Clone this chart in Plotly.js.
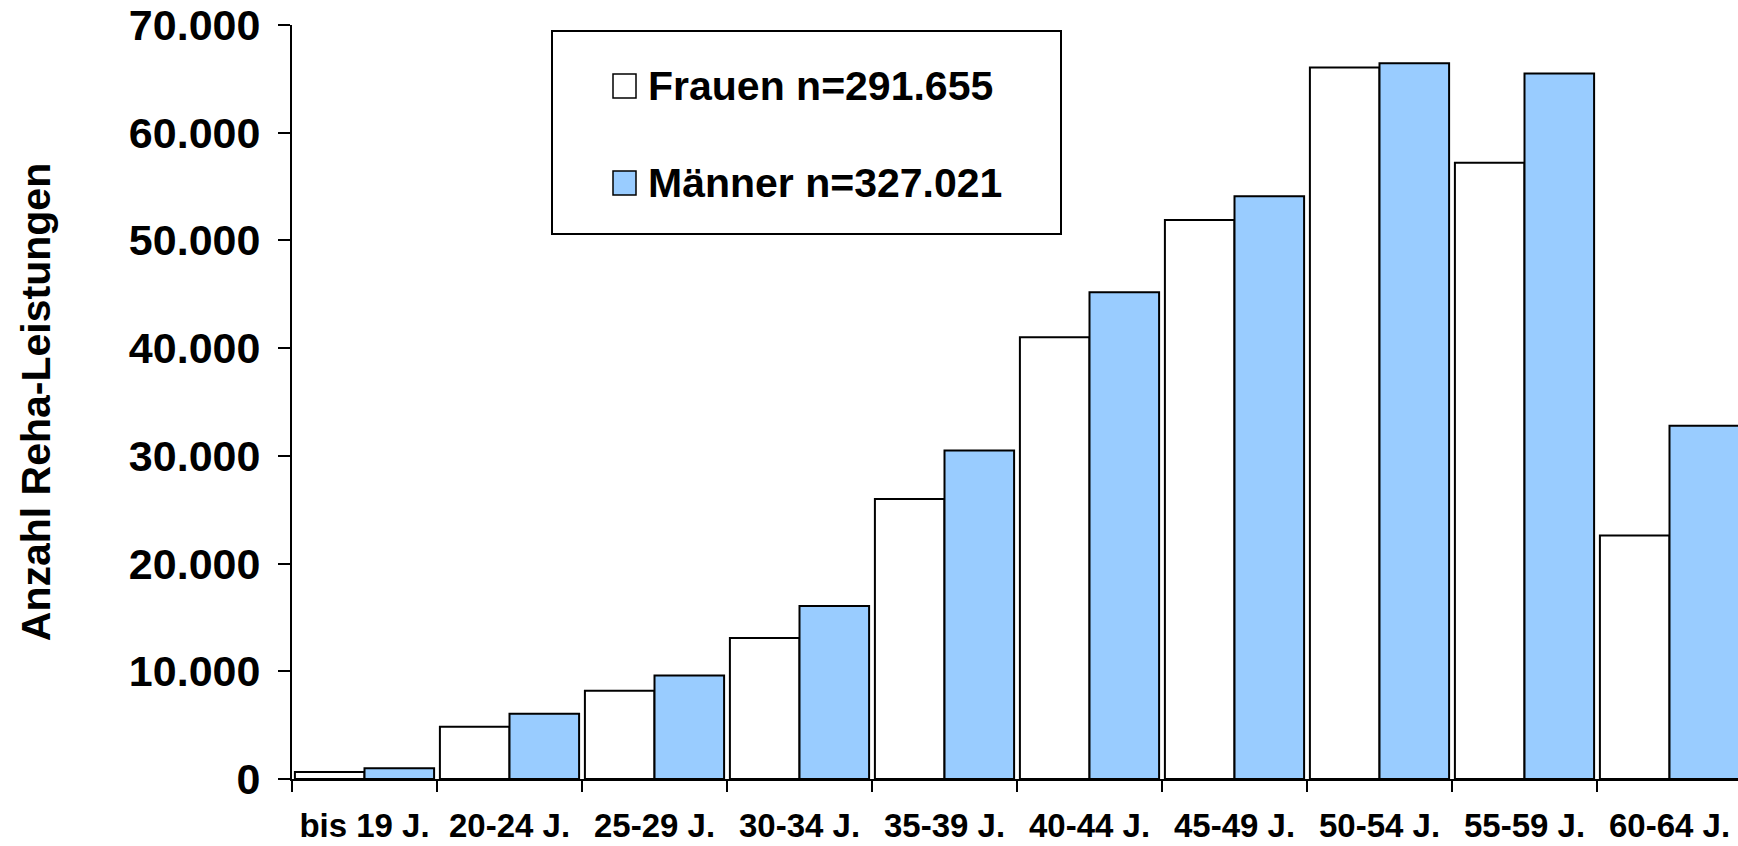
<!DOCTYPE html>
<html>
<head>
<meta charset="utf-8">
<script src="https://cdn.plot.ly/plotly-3.0.1.min.js"></script>
<style>
  html, body { margin: 0; padding: 0; overflow: hidden; background: #fff; }
  #chart { width: 1752px; height: 846px; }
</style>
</head>
<body>
<div id="chart"></div>
<script>
// ---- data ----
const categories = ['bis 19 J.', '20-24 J.', '25-29 J.', '30-34 J.', '35-39 J.',
                    '40-44 J.', '45-49 J.', '50-54 J.', '55-59 J.', '60-64 J.'];
const frauen = [650, 4850, 8200, 13100, 26000, 41000, 51900, 66050, 57200, 22600];
const maenner = [1000, 6050, 9600, 16050, 30500, 45200, 54100, 66450, 65500, 32800];
const seriesNames = ['Frauen n=291.655', 'Männer n=327.021'];
const yTitle = 'Anzahl Reha-Leistungen';

// ---- layout geometry (pixels) ----
const W = 1752, H = 846;
const L = 292, T = 25, B = 67, R = W - L - 1450;
const plotW = W - L - R, plotH = H - T - B;
const px = x => (x - L) / plotW;
const py = y => (H - B - y) / plotH;

const FONT = 'Liberation Sans, Arial, Helvetica, sans-serif';
const colors = ['#FFFFFF', '#99CCFF'];

const traces = [
  { type: 'bar', x: categories, y: frauen, name: seriesNames[0],
    marker: { color: colors[0], line: { color: '#000', width: 2 } }, showlegend: false },
  { type: 'bar', x: categories, y: maenner, name: seriesNames[1],
    marker: { color: colors[1], line: { color: '#000', width: 2 } }, showlegend: false }
];

// legend drawn as box + swatches + labels
const legendBox = { x0: 552, x1: 1061, y0: 31, y1: 234 };
const swatch = { x0: 613, x1: 636, size: 24, centers: [86, 183] };
const shapes = [
  { type: 'rect', xref: 'paper', yref: 'paper',
    x0: px(legendBox.x0), x1: px(legendBox.x1), y0: py(legendBox.y1), y1: py(legendBox.y0),
    line: { color: '#000', width: 2 }, fillcolor: '#fff', layer: 'above' }
];
const annotations = [];
seriesNames.forEach((nm, i) => {
  const c = swatch.centers[i];
  shapes.push({ type: 'rect', xref: 'paper', yref: 'paper',
    x0: px(swatch.x0), x1: px(swatch.x1), y0: py(c + swatch.size / 2), y1: py(c - swatch.size / 2),
    line: { color: '#000', width: 1.5 }, fillcolor: colors[i], layer: 'above' });
  annotations.push({ xref: 'paper', yref: 'paper', x: px(646), y: py(c),
    xanchor: 'left', yanchor: 'middle', showarrow: false, text: nm,
    font: { family: FONT, size: 41, color: '#000', weight: 700 } });
});

const layout = {
  width: W, height: H,
  margin: { l: L, r: R, t: T, b: B, pad: 0 },
  paper_bgcolor: '#fff', plot_bgcolor: '#fff',
  font: { family: FONT, color: '#000', weight: 700 },
  separators: ',.',
  barmode: 'group', bargap: 0.04, bargroupgap: 0,
  showlegend: false,
  xaxis: {
    type: 'category', range: [-0.5, 9.5], fixedrange: true,
    showline: true, linecolor: '#000', linewidth: 2,
    ticks: 'outside', tickson: 'boundaries', ticklen: 11, tickwidth: 2, tickcolor: '#000',
    tickfont: { family: FONT, size: 33, color: '#000', weight: 700 },
    ticklabelstandoff: 16,
    showgrid: false, zeroline: false
  },
  yaxis: {
    range: [0, 70000], dtick: 10000, tick0: 0, tickformat: ',d', fixedrange: true,
    showline: true, linecolor: '#000', linewidth: 2,
    ticks: 'outside', ticklen: 12, tickwidth: 2, tickcolor: '#000',
    tickfont: { family: FONT, size: 43, color: '#000', weight: 700 },
    ticklabelstandoff: 9,
    showgrid: false, zeroline: false,
    title: { text: yTitle, font: { family: FONT, size: 41, color: '#000', weight: 700 }, standoff: 66 }
  },
  shapes: shapes,
  annotations: annotations
};

Plotly.newPlot('chart', traces, layout, { displayModeBar: false, staticPlot: true });
</script>
</body>
</html>
